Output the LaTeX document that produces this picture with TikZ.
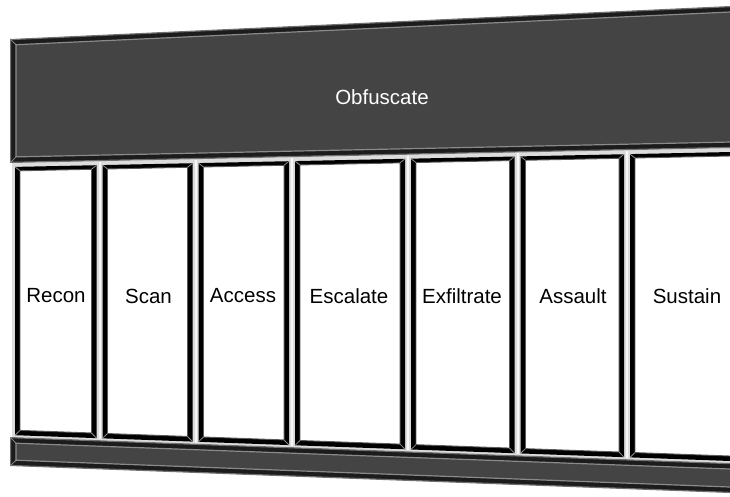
\documentclass[tikz,border=0pt]{standalone}
\usepackage{fontspec}
\setmainfont{Liberation Sans}
\definecolor{barfill}{HTML}{444444}
\definecolor{barblack}{HTML}{1C1C1C}
\definecolor{baredge}{HTML}{707070}
\definecolor{barlight}{HTML}{8A8A8A}
\definecolor{colgap}{HTML}{DCDCDC}
\definecolor{gaphi}{HTML}{F6F6F6}
\definecolor{colinner}{HTML}{5A5A5A}
\definecolor{mitercol}{HTML}{8C8C8C}
\newcommand\qfill[8]{%
  \path[#8] ({#1+#5},{#3(#1+#5)+#6}) -- ({#2-#5},{#3(#2-#5)+#6}) --
    ({#2-#5},{#4(#2-#5)-#7}) -- ({#1+#5},{#4(#1+#5)-#7}) -- cycle;}
\newcommand\colbox[2]{%
  \qfill{#1}{#2}{Mb}{Bt}{3}{4}{2}{fill=black}
  \qfill{#1}{#2}{Mb}{Bt}{8}{8}{7}{fill=white,draw=colinner,line width=0.9}
  \draw[miterln] ({#1+3},{Mb(#1+3)+4}) -- ({#1+8},{Mb(#1+8)+8});
  \draw[miterln] ({#2-3},{Mb(#2-3)+4}) -- ({#2-8},{Mb(#2-8)+8});
  \draw[miterln] ({#2-3},{Bt(#2-3)-2}) -- ({#2-8},{Bt(#2-8)-7});
  \draw[miterln] ({#1+3},{Bt(#1+3)-2}) -- ({#1+8},{Bt(#1+8)-7});
  \draw[gaphiln] ({#2},{Mb(#2)+1}) -- ({#2},{Bt(#2)-1});}
\newcommand\barbox[2]{%
  \qfill{10}{760}{#1}{#2}{0.6}{0.6}{0.6}{fill=barblack,draw=baredge,line width=1.2}
  \qfill{10}{760}{#1}{#2}{6}{6}{6}{fill=barfill,draw=barlight,line width=1.2}
  \draw[miterln] ({10.6},{#1(10.6)+0.6}) -- ({16},{#1(16)+6});
  \draw[miterln] ({10.6},{#2(10.6)-0.6}) -- ({16},{#2(16)-6});}
\begin{document}
\begin{tikzpicture}[x=1pt,y=-1pt,
  declare function={Tt(\x)=39-0.0458*(\x-10); Mb(\x)=163-0.0208*(\x-10);
                    Bt(\x)=437+0.0361*(\x-10); Eb(\x)=466+0.0375*(\x-10);},
  miterln/.style={draw=mitercol,line width=0.8},
  gaphiln/.style={draw=gaphi,line width=2},
  lbl/.style={font=\fontsize{20.5}{24}\selectfont,text=black,inner sep=0pt},
  ttl/.style={font=\fontsize{20.5}{24}\selectfont,text=white,inner sep=0pt}]
\clip (0,0) rectangle (730,496);
\fill[white] (0,0) rectangle (730,496);
% column area background
\fill[colgap] (12,{Mb(12)}) -- (760,{Mb(760)}) -- (760,{Bt(760)}) -- (12,{Bt(12)}) -- cycle;
% columns
\colbox{12}{99.5}
\colbox{99.5}{195.5}
\colbox{195.5}{292}
\colbox{292}{408}
\colbox{408}{517.5}
\colbox{517.5}{627}
\colbox{627}{748}
% bars
\barbox{Tt}{Mb}
\barbox{Bt}{Eb}
% texts
\node[ttl] (obf) at (382,97) {Obfuscate};
\node[lbl] (recon) at (56,296) {Recon};
\node[lbl] (scan) at (148.5,296) {Scan};
\node[lbl] (access) at (243,296) {Access};
\node[lbl] (escalate) at (349,296) {Escalate};
\node[lbl] (exfil) at (462,296) {Exfiltrate};
\node[lbl] (assault) at (573,296) {Assault};
\node[lbl] (sustain) at (687,296) {Sustain};
\end{tikzpicture}
\end{document}
